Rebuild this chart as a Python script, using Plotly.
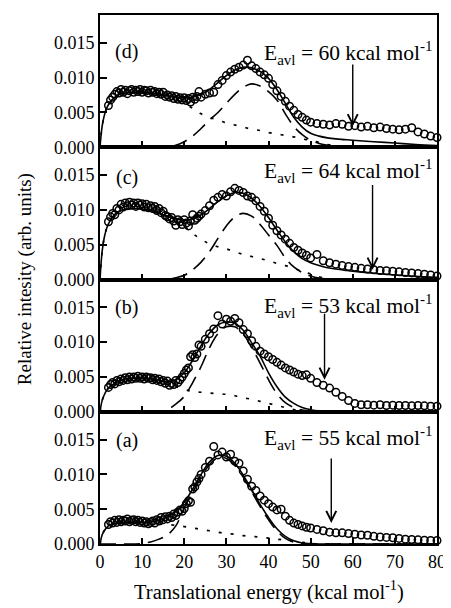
import numpy as np
import plotly.graph_objects as go
from plotly.subplots import make_subplots

# ---------------- data (intensities in units of 1e-3) ----------------
E_DATA = [2, 2.5, 3, 3.5, 4, 4.5, 5, 5.5, 6, 6.5, 7, 7.5, 8, 8.5, 9, 9.5, 10, 10.5,
          11, 11.5, 12, 12.5, 13, 13.5, 14, 14.5, 15, 15.5, 16, 16.5, 17, 17.5, 18,
          18.5, 19, 19.5, 20, 20.5, 21, 21.5, 22, 22.5, 23, 23.5, 24,
          25, 26, 27, 28, 29, 30, 31, 32, 33, 34, 35, 36, 37, 38, 39, 40, 41, 42,
          43, 44, 45, 46, 47, 48, 49, 50,
          51.5, 53, 54.5, 56, 57.5, 59, 60.5, 62, 63.5, 65, 66.5, 68, 69.5, 71,
          72.5, 74, 75.5, 77, 78.5, 80]

data_d = [6.0, 6.8, 7.2, 7.6, 8.0, 7.8, 8.3, 7.9, 8.2, 7.7, 8.1, 8.3, 7.9, 8.2, 8.0,
          8.3, 7.9, 8.2, 8.1, 7.8, 8.2, 7.9, 8.0, 7.7, 7.9, 7.6, 7.9, 7.3, 7.5, 7.2,
          7.4, 7.0, 7.3, 6.9, 7.1, 6.8, 7.1, 6.7, 7.0, 6.5, 7.2, 6.9, 7.3, 8.0, 7.2,
          7.6, 7.8, 7.9, 9.0, 9.6, 10.3, 10.8, 11.2, 11.5, 11.8, 12.5, 11.7, 11.3,
          10.8, 10.4, 9.9, 9.0, 8.1, 7.3, 6.6, 5.9, 5.3, 4.7, 4.3, 3.9, 3.6,
          3.4, 3.3, 3.2, 3.4, 3.3, 3.0, 3.1, 2.9, 3.0, 2.8, 2.9, 2.7, 2.6, 2.5, 2.6,
          2.8, 2.2, 1.9, 1.6, 1.4]
data_c = [8.3, 9.0, 9.5, 9.3, 10.2, 10.0, 10.8, 10.4, 11.0, 10.6, 11.1, 10.7, 11.0,
          10.5, 11.0, 10.7, 10.9, 10.4, 10.8, 10.3, 10.6, 10.2, 10.5, 9.9, 10.2, 9.6,
          9.8, 9.2, 9.0, 8.7, 8.9, 8.4, 7.8, 8.6, 8.3, 7.9, 8.6, 8.1, 7.7, 8.4, 9.3,
          8.5, 8.8, 9.1, 9.4,
          9.9, 10.6, 11.4, 11.8, 12.2, 12.0, 12.6, 13.1, 12.8, 12.5, 12.0, 11.8, 11.3,
          10.5, 9.8, 8.8, 7.8, 7.0, 6.4, 5.8, 5.2, 4.6, 4.2, 3.8, 3.5, 3.1,
          3.6, 2.7, 2.4, 2.2, 2.0, 1.85, 1.75, 1.6, 1.5, 1.4, 1.3, 1.25, 1.2, 1.1,
          1.0, 0.95, 0.85, 0.75, 0.65, 0.5]
data_b = [3.5, 3.9, 4.2, 4.0, 4.5, 4.3, 4.7, 4.5, 4.9, 4.6, 5.0, 4.7, 5.0, 4.8, 5.1,
          4.8, 5.0, 4.7, 5.0, 4.8, 4.9, 4.6, 4.8, 4.5, 4.7, 4.3, 4.5, 4.1, 4.4, 3.8,
          4.1, 3.9, 4.5, 4.2, 4.6, 5.0, 5.5, 6.0, 6.3, 7.9, 8.2, 7.8, 8.3, 9.6, 9.4,
          10.4, 11.2, 11.9, 13.8, 12.6, 13.3, 13.0, 13.4, 12.8, 11.8, 11.2, 10.2, 9.4,
          8.7, 8.3, 7.9, 7.5, 7.1, 6.7, 6.3, 6.0, 5.7, 5.4, 5.2, 5.3, 4.8,
          4.2, 3.8, 3.4, 2.8, 2.2, 1.6, 1.2, 1.0, 1.0, 0.95, 1.0, 0.9, 0.95, 0.9,
          0.9, 0.85, 0.9, 0.85, 0.8, 0.8]
data_a = [2.8, 3.2, 3.0, 3.4, 3.1, 3.5, 3.2, 3.4, 3.3, 3.6, 3.2, 3.4, 3.5, 3.2, 3.4,
          3.1, 3.3, 3.0, 3.2, 2.9, 3.1, 3.3, 3.0, 3.5, 3.3, 3.8, 3.5, 3.9, 3.6, 4.0,
          3.8, 4.3, 4.1, 4.6, 4.9, 4.7, 5.1, 5.8, 6.2, 6.0, 7.9, 8.2, 8.9, 9.4, 10.0,
          11.0, 11.9, 14.0, 12.8, 13.2, 12.5, 12.9, 11.9, 11.6, 10.5, 9.3, 8.3, 7.7,
          6.9, 6.3, 5.8, 5.3, 4.9, 5.0, 4.0, 3.4, 3.0, 2.8, 2.6, 2.4, 2.3,
          2.1, 1.9, 1.7, 1.6, 1.6, 1.5, 1.4, 1.3, 1.25, 1.1, 1.0, 0.95, 0.9, 0.8,
          0.7, 0.65, 0.6, 0.55, 0.5, 0.5]

E_FIT = [0, 0.5, 1, 1.5, 2, 3, 4, 5, 6, 8, 10, 12, 14, 16, 18, 20, 22, 24, 26, 28,
         30, 32, 34, 36, 38, 40, 42, 44, 46, 48, 50, 52, 54, 56, 58, 60, 65, 70, 75, 80]

total_d = [0, 3.0, 4.5, 5.5, 6.1, 6.9, 7.4, 7.7, 7.8, 7.9, 7.9, 7.8, 7.6, 7.4, 7.2,
           7.1, 7.2, 7.6, 8.3, 9.3, 10.3, 11.1, 11.5, 11.4, 10.9, 9.9, 8.3, 6.3, 4.3,
           2.9, 2.0, 1.6, 1.35, 1.2, 1.1, 1.0, 0.8, 0.6, 0.4, 0.25]
peak_d = [0, 0, 0, 0, 0, 0, 0, 0, 0, 0, 0, 0, 0, 0.05, 0.3, 0.8, 1.6, 2.7, 3.9, 5.0,
          6.3, 7.6, 8.6, 9.1, 8.8, 8.0, 6.8, 4.8, 3.0, 1.8, 1.0, 0.55, 0.3, 0.12, 0.03,
          0, 0, 0, 0, 0]
broad_d = [0, 3.0, 4.5, 5.5, 6.1, 6.9, 7.4, 7.7, 7.8, 7.9, 7.9, 7.8, 7.6, 7.3, 6.9,
           6.3, 5.6, 4.8, 4.3, 3.9, 3.5, 3.2, 2.9, 2.6, 2.4, 2.1, 1.9, 1.7, 1.5, 1.2,
           1.0, 0.7, 0.4, 0.15, 0, 0, 0, 0, 0, 0]

total_c = [0, 4.0, 6.0, 7.2, 8.0, 9.0, 9.6, 9.9, 10.1, 10.2, 10.1, 9.9, 9.5, 9.1, 8.7,
           8.5, 8.7, 9.3, 10.2, 11.2, 12.0, 12.5, 12.4, 11.7, 10.5, 8.9, 7.1, 5.4, 4.0,
           3.0, 2.4, 2.0, 1.7, 1.5, 1.35, 1.2, 0.9, 0.65, 0.45, 0.3]
peak_c = [0, 0, 0, 0, 0, 0, 0, 0, 0, 0, 0, 0, 0, 0.05, 0.25, 0.6, 1.4, 2.5, 4.0, 5.9,
          7.7, 9.0, 9.5, 9.1, 7.9, 6.4, 4.9, 3.1, 1.8, 1.0, 0.5, 0.2, 0.06, 0, 0,
          0, 0, 0, 0, 0]
broad_c = [0, 4.0, 6.0, 7.2, 8.0, 9.0, 9.6, 9.9, 10.1, 10.2, 10.1, 9.9, 9.4, 9.0, 8.4,
           7.7, 6.6, 5.8, 5.1, 4.7, 4.4, 4.0, 3.6, 3.3, 3.0, 2.7, 2.3, 2.0, 1.6, 1.2,
           0.8, 0.4, 0.1, 0, 0, 0, 0, 0, 0, 0]

total_b = [0, 1.6, 2.4, 3.0, 3.4, 3.9, 4.3, 4.5, 4.7, 4.8, 4.8, 4.7, 4.5, 4.3, 4.6,
           5.6, 7.4, 9.5, 11.3, 12.5, 12.9, 12.7, 11.7, 9.9, 8.0, 5.6, 3.6, 2.1, 1.2,
           0.6, 0.3, 0.12, 0.05, 0.02, 0, 0, 0, 0, 0, 0]
peak_b = [0, 0, 0, 0, 0, 0, 0, 0, 0, 0, 0, 0, 0, 0.3, 1.1, 2.2, 4.2, 6.5, 9.2, 11.2,
          12.2, 12.2, 11.2, 9.2, 7.0, 4.6, 2.6, 1.3, 0.6, 0.25, 0.08, 0.02, 0, 0, 0,
          0, 0, 0, 0, 0]
broad_b = [0, 1.6, 2.4, 3.0, 3.4, 3.9, 4.3, 4.5, 4.7, 4.8, 4.8, 4.6, 4.4, 4.0, 3.6,
           3.2, 2.9, 2.8, 2.7, 2.6, 2.5, 2.3, 2.0, 1.8, 1.5, 1.2, 0.9, 0.6, 0.3, 0.1,
           0, 0, 0, 0, 0, 0, 0, 0, 0, 0]

total_a = [0, 1.3, 1.9, 2.3, 2.6, 2.9, 3.0, 3.1, 3.1, 3.1, 3.1, 3.2, 3.4, 3.9, 4.7,
           6.0, 7.9, 10.0, 11.8, 12.7, 12.6, 11.6, 9.9, 7.8, 5.7, 3.8, 2.2, 1.1, 0.45,
           0.15, 0.05, 0, 0, 0, 0, 0, 0, 0, 0, 0]
peak_a = [0, 0, 0, 0, 0, 0, 0, 0, 0, 0, 0.05, 0.3, 0.7, 1.3, 2.6, 5.2, 7.4, 9.6, 11.4,
          12.4, 12.3, 11.3, 9.6, 7.5, 5.4, 3.5, 1.9, 0.8, 0.25, 0.05, 0, 0, 0, 0, 0,
          0, 0, 0, 0, 0]
broad_a = [0, 1.3, 1.9, 2.3, 2.6, 2.9, 3.0, 3.1, 3.1, 3.1, 3.1, 3.0, 2.9, 2.8, 2.7,
           2.5, 2.3, 2.1, 1.9, 1.7, 1.5, 1.4, 1.2, 1.1, 1.0, 0.85, 0.7, 0.55, 0.4,
           0.25, 0.1, 0, 0, 0, 0, 0, 0, 0, 0, 0]

panel_labels = ["(d)", "(c)", "(b)", "(a)"]
eavl_values = [60, 64, 53, 55]
arrow_x = [60, 64.7, 53.3, 54.9]
arrow_tail = [12.1, 13.8, 14.3, 12.5]
arrow_head = [3.0, 1.4, 4.6, 3.0]
label_y = [13.7, 14.7, 15.0, 14.8]
eavl_y = [13.6, 15.6, 15.2, 15.2]

panels = [
    (data_d, total_d, peak_d, broad_d),
    (data_c, total_c, peak_c, broad_c),
    (data_b, total_b, peak_b, broad_b),
    (data_a, total_a, peak_a, broad_a),
]

SCALE = 1e-3
FONT = "Liberation Serif, Times New Roman, Times, DejaVu Serif, serif"

fig = make_subplots(rows=4, cols=1, shared_xaxes=True, vertical_spacing=0)

for i, (dat, tot, pk, br) in enumerate(panels, start=1):
    fig.add_trace(go.Scatter(x=E_FIT, y=np.array(br) * SCALE, mode="lines",
                             line=dict(color="black", width=1.7, dash="3px,9px", shape="spline"),
                             showlegend=False), row=i, col=1)
    fig.add_trace(go.Scatter(x=E_FIT, y=np.array(pk) * SCALE, mode="lines",
                             line=dict(color="black", width=1.6, dash="16px,8px", shape="spline"),
                             showlegend=False), row=i, col=1)
    fig.add_trace(go.Scatter(x=E_FIT, y=np.array(tot) * SCALE, mode="lines",
                             line=dict(color="black", width=1.6, shape="spline"),
                             showlegend=False), row=i, col=1)
    fig.add_trace(go.Scatter(x=E_DATA, y=np.array(dat) * SCALE, mode="markers",
                             marker=dict(symbol="circle-open", size=7.5, color="black",
                                         line=dict(width=1.5)),
                             cliponaxis=False, showlegend=False), row=i, col=1)

    fig.update_yaxes(range=[0, 0.019], tickvals=[0, 0.005, 0.010, 0.015], tickformat=".3f",
                     ticks="inside", ticklen=7, tickwidth=1.5, tickcolor="black",
                     showline=True, linewidth=2, linecolor="black", mirror=True,
                     showgrid=False, zeroline=False,
                     tickfont=dict(family=FONT, size=18, color="black"), row=i, col=1)
    fig.update_xaxes(range=[0, 80], tickvals=list(range(0, 81, 10)),
                     ticks="inside", ticklen=6, tickwidth=1.5, tickcolor="black",
                     showline=True, linewidth=2, linecolor="black", mirror=True,
                     showgrid=False, zeroline=False,
                     tickfont=dict(family=FONT, size=18, color="black"), row=i, col=1)

    xr = "x" if i == 1 else f"x{i}"
    yr = "y" if i == 1 else f"y{i}"
    k = i - 1
    fig.add_annotation(x=6.3, y=label_y[k] * SCALE, xref=xr, yref=yr, text=panel_labels[k],
                       showarrow=False, xanchor="center", yanchor="middle",
                       font=dict(family=FONT, size=20, color="black"))
    fig.add_annotation(x=38.4, y=eavl_y[k] * SCALE, xref=xr, yref=yr,
                       text=f"E<sub>avl</sub> = {eavl_values[k]} kcal mol<sup>-1</sup>",
                       showarrow=False, xanchor="left", yanchor="middle",
                       font=dict(family=FONT, size=21.5, color="black"))
    fig.add_annotation(x=arrow_x[k], y=arrow_head[k] * SCALE, ax=arrow_x[k],
                       ay=arrow_tail[k] * SCALE, xref=xr, yref=yr, axref=xr, ayref=yr,
                       text="", showarrow=True, arrowhead=5, arrowsize=1.4,
                       arrowwidth=1.4, arrowcolor="black")

fig.add_annotation(x=0.5, y=-0.088, xref="paper", yref="paper",
                   text="Translational energy (kcal mol<sup>-1</sup>)", showarrow=False,
                   xanchor="center", yanchor="middle",
                   font=dict(family=FONT, size=20.5, color="black"))
fig.add_annotation(x=-0.2235, y=0.5, xref="paper", yref="paper",
                   text="Relative intesity (arb. units)", showarrow=False, textangle=-90,
                   xanchor="center", yanchor="middle",
                   font=dict(family=FONT, size=19, color="black"))

# the page body adds an 8px offset, so the figure is drawn 8px smaller
fig.update_layout(width=443, height=600, margin=dict(l=92, r=11, t=5, b=64),
                  plot_bgcolor="white", paper_bgcolor="white",
                  font=dict(family=FONT, color="black"), showlegend=False)

fig.write_html("out.html")
